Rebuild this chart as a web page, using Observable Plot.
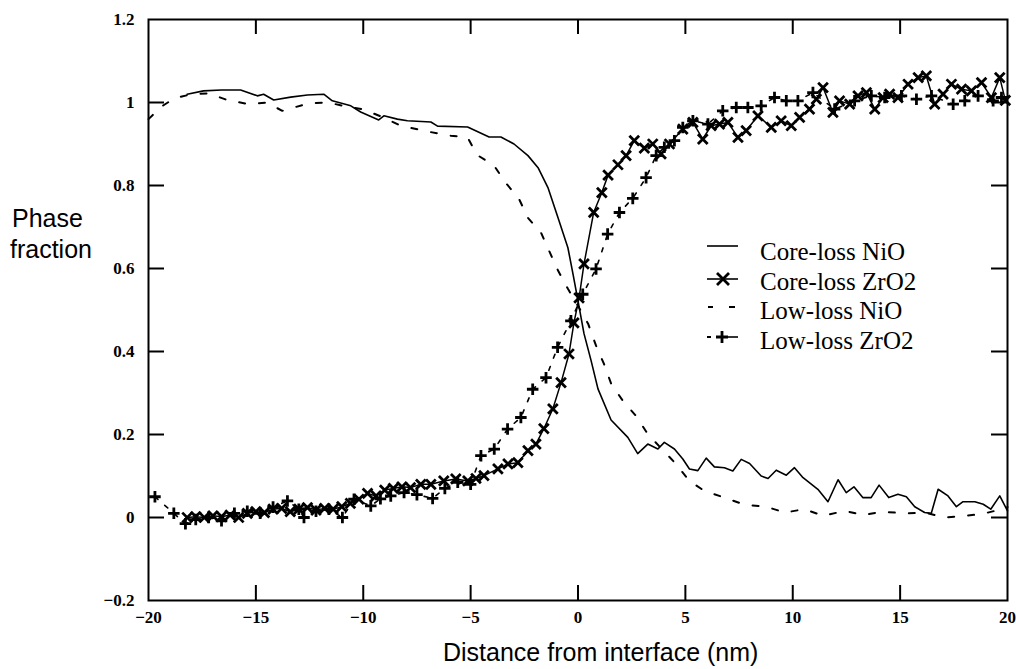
<!DOCTYPE html>
<html><head><meta charset="utf-8">
<script src="https://cdn.jsdelivr.net/npm/d3@7"></script>
<script src="https://cdn.jsdelivr.net/npm/@observablehq/plot@0.6"></script>
<style>
body{margin:0;background:#fff;}
#wrap{position:relative;width:1016px;height:669px;overflow:hidden;}
.lab{position:absolute;font-family:"Liberation Sans",Arial,sans-serif;font-size:25px;line-height:25px;color:#000;white-space:nowrap;}
#legend{position:absolute;left:705px;top:237px;font-family:"Liberation Serif","Times New Roman",serif;font-size:25px;color:#000;}
.row{position:relative;height:29.5px;line-height:29.5px;white-space:nowrap;}
.row svg{position:absolute;left:0;top:0;}
.row span{margin-left:55px;}
</style></head><body><div id="wrap"></div>
<script>
// ---- axis ticks ----
const xTickLabels = [-20,-15,-10,-5,0,5,10,15,20];
const xTickInner = [-15,-10,-5,0,5,10,15];
const yTickLabels = [-0.2,0,0.2,0.4,0.6,0.8,1,1.2];
const yTickInner = [0,0.2,0.4,0.6,0.8,1];
const seriesNames = ["Core-loss NiO","Core-loss ZrO2","Low-loss NiO","Low-loss ZrO2"];

// ---- Core-loss NiO (solid line) ----
const coreNiOX = [-18.2,-17.44,-16.6,-15.71,-14.93,-14.64,-14.17,-13.38,-12.6,-11.84,-11.44,-10.58,-10.12,-9.28,-9.04,-8.41,-7.94,-6.85,-6.54,-5.14,-4.14,-3.59,-2.98,-2.33,-1.86,-1.40,-0.93,-0.47,-0.23,0.0,0.28,0.61,0.93,1.54,2.32,2.78,3.25,3.72,4.02,4.49,4.88,5.19,5.58,5.97,6.35,6.82,7.21,7.60,7.99,8.53,8.85,9.23,9.70,10.08,10.48,11.17,11.64,12.11,12.49,12.85,13.26,13.65,14.02,14.47,14.90,15.29,15.68,16.14,16.45,16.77,17.23,17.62,17.93,18.48,18.87,19.22,19.64,20.0];
const coreNiOY = [1.020,1.028,1.030,1.030,1.016,1.020,1.006,1.013,1.018,1.020,1.004,0.992,0.977,0.958,0.968,0.960,0.956,0.953,0.943,0.941,0.917,0.917,0.900,0.872,0.843,0.795,0.722,0.650,0.586,0.522,0.443,0.378,0.310,0.235,0.193,0.154,0.177,0.165,0.181,0.165,0.141,0.117,0.113,0.143,0.122,0.120,0.112,0.140,0.130,0.100,0.094,0.114,0.102,0.120,0.096,0.068,0.038,0.091,0.060,0.074,0.048,0.048,0.078,0.048,0.056,0.050,0.026,0.012,0.010,0.068,0.052,0.026,0.038,0.038,0.032,0.020,0.052,0.016];

// ---- Core-loss ZrO2 (solid line with x markers) ----
const coreZrX = [-18.2,-17.8,-17.4,-17.0,-16.6,-16.2,-15.8,-15.4,-15.0,-14.6,-14.2,-13.8,-13.4,-13.0,-12.6,-12.2,-11.8,-11.4,-11.0,-10.6,-10.2,-9.8,-9.4,-9.0,-8.6,-8.2,-7.8,-7.32,-6.85,-6.25,-5.69,-5.13,-4.75,-4.38,-3.73,-3.26,-2.80,-2.33,-1.96,-1.59,-1.17,-0.79,-0.42,-0.19,0.05,0.28,0.73,1.11,1.40,1.86,2.24,2.62,3.09,3.48,3.87,4.26,4.88,5.35,5.81,6.20,6.59,6.98,7.45,7.83,8.38,9.00,9.46,9.93,10.32,10.78,11.10,11.41,11.87,12.18,12.65,13.04,13.43,13.82,14.21,14.51,14.90,15.37,15.84,16.22,16.61,17.00,17.39,17.86,18.32,18.79,19.25,19.64,19.9];
const coreZrY = [0.000,0.002,0.000,0.004,0.002,0.006,0.000,0.010,0.014,0.012,0.020,0.022,0.014,0.020,0.024,0.018,0.022,0.020,0.026,0.034,0.044,0.058,0.052,0.066,0.070,0.074,0.072,0.080,0.080,0.088,0.093,0.088,0.094,0.101,0.117,0.129,0.132,0.161,0.177,0.214,0.262,0.325,0.394,0.469,0.529,0.611,0.735,0.783,0.825,0.850,0.872,0.908,0.890,0.900,0.876,0.900,0.936,0.952,0.912,0.944,0.948,0.952,0.916,0.932,0.968,0.940,0.956,0.944,0.964,0.984,1.008,1.036,0.976,1.004,0.996,1.016,1.024,0.984,1.012,1.020,1.012,1.044,1.060,1.064,0.996,1.020,1.044,1.032,1.028,1.048,1.012,1.060,1.005];

// ---- Low-loss NiO (dashed line) ----
const lowNiOX = [-20.0,-19.4,-18.8,-18.0,-17.2,-16.33,-15.34,-14.5,-13.77,-12.54,-11.61,-10.8,-10.04,-9.1,-8.25,-7.0,-5.92,-5.14,-4.71,-3.91,-3.36,-2.75,-2.33,-1.72,-1.35,-0.93,-0.47,0.0,0.47,0.84,1.21,1.54,2.09,2.70,3.25,4.49,5.19,5.89,6.82,7.75,8.77,9.62,10.55,11.41,12.42,13.27,14.20,15.21,16.14,17.07,18.79,19.72,20.0];
const lowNiOY = [0.960,0.990,1.010,1.020,1.022,1.006,0.996,1.000,0.980,0.998,1.000,0.990,0.984,0.965,0.944,0.930,0.920,0.916,0.874,0.848,0.806,0.768,0.722,0.686,0.643,0.595,0.551,0.510,0.467,0.414,0.370,0.323,0.281,0.245,0.201,0.133,0.088,0.064,0.048,0.031,0.026,0.012,0.020,0.004,0.016,0.006,0.014,0.010,0.012,0.000,0.008,0.020,0.025];

// ---- Low-loss ZrO2 (dashed line with + markers) ----
const lowZrX = [-19.7,-18.82,-18.28,-17.8,-17.2,-16.6,-16.0,-15.4,-14.8,-14.2,-13.53,-13.0,-12.76,-12.2,-11.6,-10.97,-10.43,-9.65,-9.2,-8.72,-8.1,-7.5,-6.77,-6.2,-5.6,-5.0,-4.52,-3.90,-3.28,-2.66,-2.11,-1.49,-0.95,-0.33,0.22,0.84,1.38,1.93,2.55,3.17,3.64,4.02,4.49,4.88,5.35,6.05,6.74,7.37,7.91,8.53,9.15,9.70,10.24,10.94,11.95,12.88,13.66,14.28,15.06,15.76,16.46,17.47,18.01,18.63,19.33,19.72];
const lowZrY = [0.050,0.010,-0.015,-0.005,0.000,-0.008,0.010,0.015,0.010,0.025,0.040,0.020,0.000,0.015,0.020,0.000,0.044,0.028,0.045,0.052,0.060,0.055,0.046,0.070,0.085,0.080,0.149,0.165,0.213,0.241,0.309,0.337,0.410,0.474,0.538,0.599,0.683,0.735,0.769,0.819,0.872,0.892,0.908,0.940,0.956,0.948,0.980,0.988,0.988,0.992,1.012,1.004,1.004,1.024,0.984,1.004,1.016,1.012,1.016,1.008,1.016,0.996,1.004,1.016,1.004,1.012];

const toRows = (xs, ys) => xs.map((x, i) => ({x, y: ys[i]}));
const coreNiO = toRows(coreNiOX, coreNiOY);
const coreZr = toRows(coreZrX, coreZrY);
const lowNiO = toRows(lowNiOX, lowNiOY);
const lowZr = toRows(lowZrX, lowZrY);

const fmtY = d => String(+d.toFixed(1)).replace("-", "\u2212");
const fmtX = d => String(d).replace("-", "\u2212");

const W = 1016, H = 669, ML = 148, MR = 9, MT = 19, MB = 69;
const innerW = W - ML - MR, innerH = H - MT - MB;
const TX = 15, TY = 16; // inward tick lengths (px)
const tickFont = {fontSize: 17, fontWeight: "bold", fontFamily: "'Liberation Serif', 'Times New Roman', serif"};

const chart = Plot.plot({
  width: W,
  height: H,
  marginLeft: ML,
  marginRight: MR,
  marginTop: MT,
  marginBottom: MB,
  style: {fontFamily: "'Liberation Serif', 'Times New Roman', serif", fontSize: "17px", fontWeight: "bold", color: "#000", background: "#fff"},
  x: {domain: [-20, 20]},
  y: {domain: [-0.2, 1.2]},
  marks: [
    Plot.line(lowNiO, {x: "x", y: "y", stroke: "#000", strokeWidth: 2, strokeDasharray: "6,14"}),
    Plot.line(coreNiO, {x: "x", y: "y", stroke: "#000", strokeWidth: 1.6}),
    Plot.line(lowZr, {x: "x", y: "y", stroke: "#000", strokeWidth: 1.6, strokeDasharray: "4,9"}),
    Plot.dot(lowZr, {x: "x", y: "y", symbol: "plus", r: 3.8, stroke: "#000", strokeWidth: 2.8}),
    Plot.line(coreZr, {x: "x", y: "y", stroke: "#000", strokeWidth: 1.5}),
    Plot.dot(coreZr, {x: "x", y: "y", symbol: "times", r: 4.5, stroke: "#000", strokeWidth: 2.8}),
    Plot.axisX(xTickLabels, {anchor: "bottom", tickSize: 0, tickPadding: 10, tickFormat: fmtX, label: null, ...tickFont}),
    Plot.axisY(yTickLabels, {anchor: "left", tickSize: 0, tickPadding: 14, tickFormat: fmtY, label: null, ...tickFont}),
    // inward ticks as short rules inset from the frame edges
    Plot.ruleX(xTickInner, {stroke: "#000", strokeWidth: 2, insetTop: innerH - TX}),
    Plot.ruleX(xTickInner, {stroke: "#000", strokeWidth: 2, insetBottom: innerH - TX}),
    Plot.ruleY(yTickInner, {stroke: "#000", strokeWidth: 2, insetRight: innerW - TY}),
    Plot.ruleY(yTickInner, {stroke: "#000", strokeWidth: 2, insetLeft: innerW - TY}),
    Plot.frame({stroke: "#000", strokeWidth: 2})
  ]
});

const wrap = document.getElementById("wrap");
wrap.appendChild(chart);

// axis titles
function addLabel(text, left, top) {
  const d = document.createElement("div");
  d.className = "lab";
  d.textContent = text;
  d.style.left = left + "px";
  d.style.top = top + "px";
  wrap.appendChild(d);
}
addLabel("Phase", 12, 206);
addLabel("fraction", 10, 237);
addLabel("Distance from interface (nm)", 443, 640);

// legend
const symbols = [
  '<line x1="2" y1="9" x2="33" y2="9" stroke="#000" stroke-width="1.6"/>',
  '<line x1="2" y1="12" x2="33" y2="12" stroke="#000" stroke-width="1.6"/><path d="M12,6L24,18M12,18L24,6" stroke="#000" stroke-width="2.8"/>',
  '<line x1="3" y1="11" x2="8" y2="11" stroke="#000" stroke-width="2"/><line x1="24" y1="11" x2="30" y2="11" stroke="#000" stroke-width="2"/>',
  '<line x1="2" y1="11" x2="6" y2="11" stroke="#000" stroke-width="2"/><line x1="12" y1="11" x2="33" y2="11" stroke="#000" stroke-width="1.6"/><path d="M17,5V17M11,11H23" stroke="#000" stroke-width="2.8"/>'
];
const legend = document.createElement("div");
legend.id = "legend";
seriesNames.forEach((name, i) => {
  const row = document.createElement("div");
  row.className = "row";
  row.innerHTML = '<svg width="36" height="22" viewBox="0 0 36 22">' + symbols[i] + '</svg><span></span>';
  row.querySelector("span").textContent = name;
  legend.appendChild(row);
});
wrap.appendChild(legend);
</script>
</body></html>
